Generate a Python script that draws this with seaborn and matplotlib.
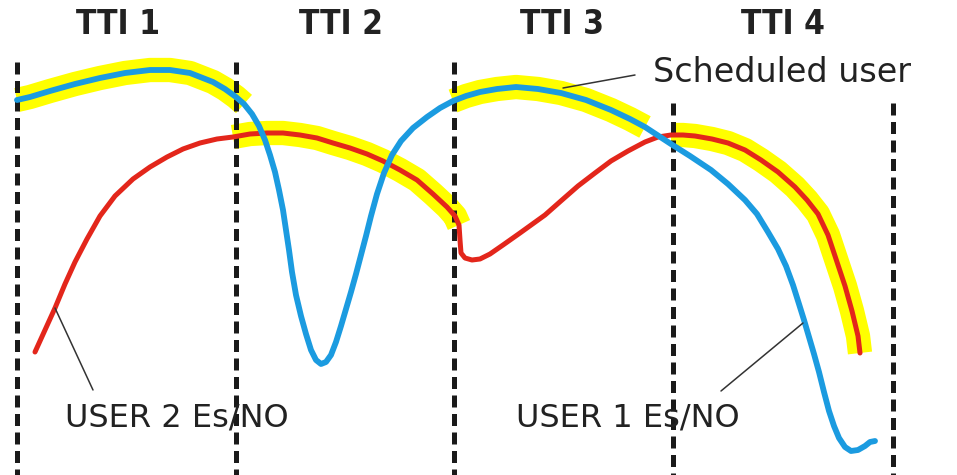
import numpy as np
import pandas as pd
import matplotlib
matplotlib.use("Agg")
import matplotlib.pyplot as plt
import seaborn as sns

# ---- data (pixel-like units) ----
tti_labels = ["TTI 1", "TTI 2", "TTI 3", "TTI 4"]
tti_label_x = [118, 341, 562, 783]
tti_boundaries = [17, 236, 454, 673, 893]
tti_boundary_tops = [62, 62, 62, 103, 103]

user1_x = [17, 30, 50, 75, 100, 125, 150, 170, 190, 213, 225, 236, 244, 252, 259, 265,
           270, 275, 279, 283, 286, 289, 292, 296, 301, 306, 311, 316, 321, 326, 331,
           336, 341, 346, 351, 356, 361, 366, 371, 377, 384, 392, 401, 413, 427, 440,
           453, 466, 480, 497, 516, 538, 561, 586, 611, 630, 645, 671, 690, 711, 728,
           745, 757, 768, 778, 786, 793, 799, 804, 809, 814, 819, 824, 829, 834, 839,
           845, 851, 858, 865, 870, 875]
user1_y = [100, 97, 91, 84, 78, 73, 70, 70, 73, 82, 89, 97, 104, 114, 126, 140,
           155, 172, 190, 210, 230, 250, 272, 295, 316, 334, 350, 360, 364, 362, 355,
           342, 326, 309, 292, 274, 255, 236, 216, 194, 173, 155, 141, 128, 117, 108,
           101, 96, 92, 89, 87, 89, 93, 100, 110, 119, 127, 144, 156, 170, 184,
           200, 214, 232, 249, 266, 285, 304, 320, 337, 354, 372, 392, 411, 426, 438,
           447, 451, 450, 446, 442, 441]

user2_x = [35, 45, 55, 65, 75, 87, 100, 115, 133, 150, 167, 183, 200, 217, 233, 250,
           267, 283, 300, 317, 333, 350, 367, 383, 400, 417, 433, 447, 455, 459, 460,
           461, 465, 472, 480, 490, 503, 520, 545, 562, 578, 595, 611, 628, 645, 658,
           671, 683, 695, 712, 728, 745, 761, 778, 795, 807, 818, 828, 837, 845, 852,
           858, 860]
user2_y = [352, 330, 308, 284, 262, 239, 216, 196, 179, 167, 157, 149, 143, 139, 137, 134,
           133, 133, 135, 138, 143, 148, 154, 161, 170, 180, 194, 207, 216, 225, 240,
           253, 258, 260, 259, 254, 245, 233, 215, 200, 186, 173, 161, 151, 142, 137,
           135, 135, 136, 139, 143, 150, 160, 172, 187, 200, 214, 235, 262, 286, 311,
           336, 353]

# scheduled user per TTI: (series, x start, x end)
scheduled_user = ["user1", "user2", "user1", "user2"]
scheduled_from = [17, 232, 443, 665]
scheduled_to = [248, 459, 665, 862]

# ---- figure ----
sns.set_theme(style="white")
plt.rcParams["font.family"] = ["DejaVu Sans"]
fig = plt.figure(figsize=(9.57, 4.75), dpi=100)
ax = fig.add_axes([0, 0, 1, 1])
ax.set_xlim(0, 957)
ax.set_ylim(475, 0)
ax.axis("off")

series = {
    "user1": pd.DataFrame({"x": user1_x, "y": user1_y}),
    "user2": pd.DataFrame({"x": user2_x, "y": user2_y}),
}

# yellow highlight of the scheduled user
for name, x0, x1 in zip(scheduled_user, scheduled_from, scheduled_to):
    d = series[name]
    seg = d[(d.x >= x0) & (d.x <= x1)]
    sns.lineplot(data=seg, x="x", y="y", sort=False, estimator=None, ax=ax,
                 color="#FFFF00", linewidth=17.5, solid_capstyle="butt", zorder=1)

# dashed TTI boundaries
for xb, top in zip(tti_boundaries, tti_boundary_tops):
    ax.vlines(xb, top, 475, colors="#1a1a1a", linewidth=3.6,
              linestyles=(0, (2.4, 1.3)), zorder=3)

# curves
sns.lineplot(data=series["user2"], x="x", y="y", sort=False, estimator=None, ax=ax,
             color="#E3261B", linewidth=3.6, zorder=4)
sns.lineplot(data=series["user1"], x="x", y="y", sort=False, estimator=None, ax=ax,
             color="#1B9BE0", linewidth=4.2, zorder=5)

# TTI labels
for xc, lab in zip(tti_label_x, tti_labels):
    ax.text(xc, 25, lab, ha="center", va="center", fontsize=24,
            fontweight="bold", fontstretch="condensed", color="#222222",
            family="DejaVu Sans")

# annotations
ax.plot([563, 635], [88, 75], color="#333333", lw=1.1, zorder=6)
ax.text(653, 72, "Scheduled user", ha="left", va="center", fontsize=24,
        color="#222222", family="DejaVu Sans")
ax.plot([55, 93], [308, 390], color="#333333", lw=1.1, zorder=6)
ax.text(65, 418, "USER 2 Es/NO", ha="left", va="center", fontsize=23,
        color="#222222", family="DejaVu Sans")
ax.plot([803, 721], [323, 391], color="#333333", lw=1.1, zorder=6)
ax.text(516, 418, "USER 1 Es/NO", ha="left", va="center", fontsize=23,
        color="#222222", family="DejaVu Sans")

ax.set_xlabel("")
ax.set_ylabel("")
fig.savefig("out.png", dpi=100)
